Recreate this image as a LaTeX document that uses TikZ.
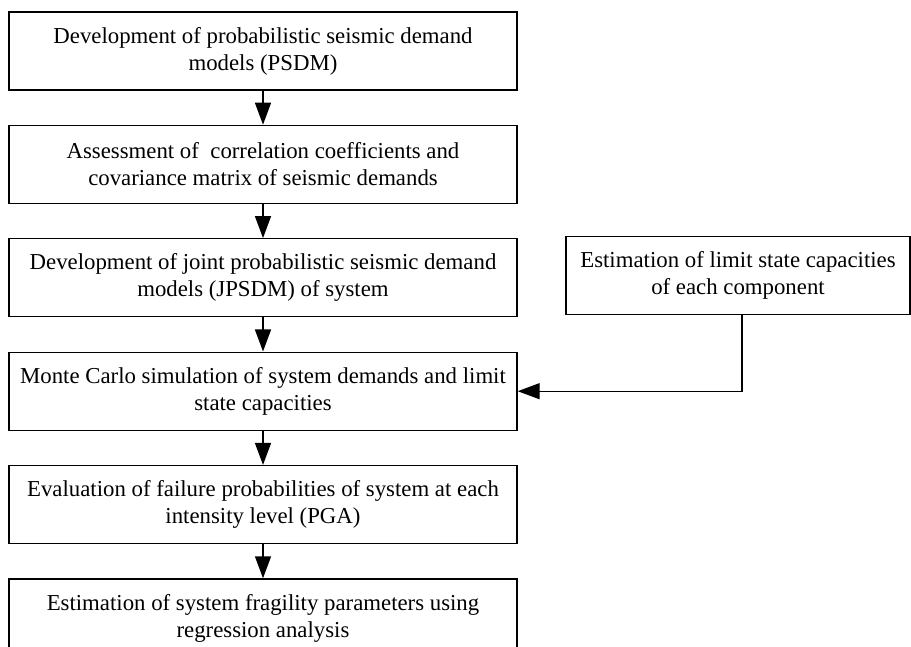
\documentclass[tikz,border=0pt]{standalone}
\usepackage{fontspec}
\setmainfont{Liberation Serif}
\usetikzlibrary{arrows.meta,positioning}
\begin{document}
\begin{tikzpicture}[x=1pt,y=1pt,
    box/.style={draw,line width=1.4pt,minimum width=508pt,minimum height=78pt,inner sep=0pt,
        align=center,font=\fontsize{22.8}{27}\selectfont},
    flow/.style={line width=1.4pt,-{Triangle[length=22pt,width=16pt]}}]
    \useasboundingbox (0,0) rectangle (911,-647);
    % main column
    \node[box] (psdm) at (263,-51) {Development of probabilistic seismic demand\\models (PSDM)};
    \node[box,below=34pt of psdm] (corr) {Assessment of\ \ correlation coefficients and\\covariance matrix of seismic demands};
    \node[box,below=34pt of corr] (jpsdm) {Development of joint probabilistic seismic demand\\models (JPSDM) of system};
    \node[box,below=34pt of jpsdm] (mcs) {Monte Carlo simulation of system demands and limit\\state capacities};
    \node[box,below=34pt of mcs] (fail) {Evaluation of failure probabilities of system at each\\intensity level (PGA)};
    \node[box,below=34pt of fail] (frag) {Estimation of system fragility parameters using\\regression analysis};
    % side input
    \node[box,minimum width=344pt] (cap) at (738,-275.5) {Estimation of limit state capacities\\of each component};
    \draw[flow] (psdm) -- (corr);
    \draw[flow] (corr) -- (jpsdm);
    \draw[flow] (jpsdm) -- (mcs);
    \draw[flow] (mcs) -- (fail);
    \draw[flow] (fail) -- (frag);
    \draw[flow] ([xshift=4pt]cap.south) |- (mcs.east);
\end{tikzpicture}
\end{document}
